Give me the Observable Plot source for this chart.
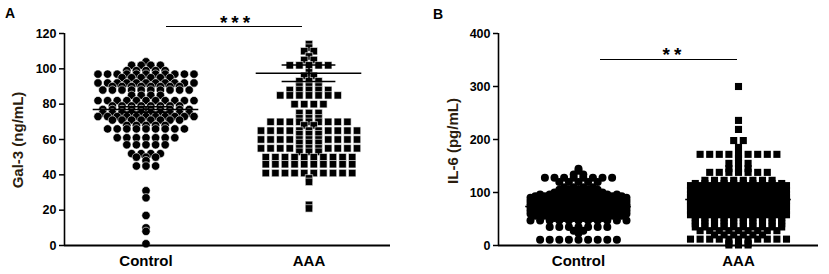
<!DOCTYPE html>
<html><head><meta charset="utf-8">
<script src="https://cdn.jsdelivr.net/npm/d3@7"></script>
<script src="https://cdn.jsdelivr.net/npm/@observablehq/plot@0.6"></script>
<style>
body{margin:0;background:#fff;}
#wrap{position:relative;width:829px;height:274px;overflow:hidden;font-family:"Liberation Sans",Arial,sans-serif;}
.panel{position:absolute;top:0;}
.txt{position:absolute;font-weight:bold;line-height:1;white-space:nowrap;color:#000;}
.ytitle{position:absolute;font-weight:bold;font-size:15px;line-height:1;white-space:nowrap;color:#2b1d0e;transform:translate(-50%,-50%) rotate(-90deg);}
.sig{position:absolute;height:0;border-top:1.8px solid #000;}
</style></head><body>
<div id="wrap"></div>
<script>
// ---------- data ----------
const groups = ["Control", "AAA"];

// Panel A: Gal-3 (ng/mL) -- values, and how many subjects share each value (one row of the scatter)
const galControlValues = [104,102,99,97,95,92,90,88,85,82,79,77,75,73,71,68,66,61,57,52,50,48,45,31,27,17,10,8,1];
const galControlCounts = [1,4,5,11,6,11,8,10,4,11,8,10,10,11,8,5,9,7,5,4,3,1,3,1,1,1,1,1,1];
const galAAAValues = [114,112,110,107,105,102,98,96,93,90,88,85,80,75,72,70,68,65,63,60,58,55,53,50,46,41,38,36,23,21];
const galAAACounts = [1,1,2,1,2,5,1,2,3,3,5,7,4,3,3,9,2,11,3,11,3,11,3,10,10,10,1,1,1,1];
const galMeans = [77, 97.5];
const galSE = [1.5, 4.7];
const galTicks = [0, 20, 40, 60, 80, 100, 120];

// Panel B: IL-6 (pg/mL)
const ilControlValues = [145,141,134,128,120,110,105,100,96,93,90,87,84,81,78,75,72,69,66,63,60,56,52,47,35,28,23,11];
const ilControlCounts = [1,1,2,8,5,4,5,6,9,10,11,10,11,10,11,10,11,10,11,10,11,10,6,11,7,2,1,9];
const ilAAAValues = [300,236,219,198,185,172,165,155,145,138,123,117,113,109,105,101,97,94,91,88,85,82,79,76,73,70,66,62,58,53,47,41,35,28,20,12,4,1];
const ilAAACounts = [1,1,1,2,1,9,1,3,3,7,8,10,11,10,11,10,11,10,11,10,11,10,11,10,11,10,11,10,11,10,10,10,10,9,6,11,3,3];
const ilMeans = [73.6, 86.8];
const ilSE = [2.5, 4];
const ilTicks = [0, 100, 200, 300, 400];

// ---------- build tables: each row of equal values is laid out side by side (slot = position in the row) ----------
function expand(group, values, counts) {
  const out = [];
  values.forEach((v, i) => {
    const n = counts[i];
    for (let k = 0; k < n; k++) out.push({group, value: v, slot: k - (n - 1) / 2});
  });
  return out;
}
const galData = expand("Control", galControlValues, galControlCounts).concat(expand("AAA", galAAAValues, galAAACounts));
const ilData = expand("Control", ilControlValues, ilControlCounts).concat(expand("AAA", ilAAAValues, ilAAACounts));

function panel(cfg) {
  const stats = groups.map((g, i) => ({group: g, mean: cfg.means[i], se: cfg.ses[i]}));
  const y0 = cfg.yDomain[0], y1 = cfg.yDomain[1];
  const facetW = (cfg.width - cfg.marginLeft - cfg.marginRight) / 2;
  const half = facetW / 2 / 9.6; // 9.6 px between neighbours in a row
  return Plot.plot({
    width: cfg.width, height: 274,
    marginTop: 33, marginBottom: 29, marginLeft: cfg.marginLeft, marginRight: cfg.marginRight,
    style: {fontFamily: '"Liberation Sans", Arial, sans-serif', background: "transparent", color: "#000", overflow: "visible"},
    fx: {domain: groups, padding: 0},
    x: {domain: [-half, half], axis: null},
    y: {domain: cfg.yDomain, axis: null},
    symbol: {domain: groups, range: ["circle", "square"]},
    marks: [
      Plot.dot(cfg.data, {fx: "group", x: "slot", y: "value", r: cfg.r, symbol: "group", fill: "#000", stroke: cfg.halo ? "#fff" : "none", strokeWidth: cfg.halo}),
      Plot.ruleY(stats, {fx: "group", y: "mean", x1: () => -5.5, x2: () => 5.5, stroke: "#000", strokeWidth: 1.6}),
      Plot.ruleX(stats, {fx: "group", x: () => 0, y1: d => d.mean - d.se, y2: d => d.mean + d.se, stroke: "#000", strokeWidth: 1.6}),
      Plot.ruleY(stats, {fx: "group", y: d => d.mean + d.se, x1: () => -2.8, x2: () => 2.8, stroke: "#000", strokeWidth: 1.6}),
      Plot.ruleY(stats, {fx: "group", y: d => d.mean - d.se, x1: () => -2.8, x2: () => 2.8, stroke: "#000", strokeWidth: 1.6}),
      Plot.ruleY([0], {stroke: "#000", strokeWidth: 1.8}),
      Plot.ruleX([{g: "Control"}], {fx: "g", x: () => -half, y1: () => y0, y2: () => y1, stroke: "#000", strokeWidth: 1.6}),
      Plot.axisY({ticks: cfg.yTicks, tickSize: 5, tickPadding: 3, fontSize: 12.5, fontWeight: "bold", label: null, strokeWidth: 1.5}),
      Plot.axisFx({anchor: "bottom", tickSize: 0, tickPadding: 10, fontSize: 15, fontWeight: "bold", label: null})
    ]
  });
}

const wrap = document.getElementById("wrap");
function place(node, left) {
  const d = document.createElement("div");
  d.className = "panel";
  d.style.left = left + "px";
  d.appendChild(node);
  wrap.appendChild(d);
}
place(panel({data: galData, means: galMeans, ses: galSE, yDomain: [0, 120], yTicks: galTicks, width: 414, marginLeft: 64, marginRight: 24, r: 4.2, halo: 0.6}), 0);
place(panel({data: ilData, means: ilMeans, ses: ilSE, yDomain: [0, 400], yTicks: ilTicks, width: 415, marginLeft: 84, marginRight: 11, r: 4, halo: 0}), 414);

function addText(text, cls, style) {
  const d = document.createElement("div");
  d.className = cls;
  d.textContent = text;
  Object.assign(d.style, style);
  wrap.appendChild(d);
}
addText("A", "txt", {left: "5px", top: "6px", fontSize: "14px"});
addText("B", "txt", {left: "433px", top: "7px", fontSize: "14px"});
addText("Gal-3 (ng/mL)", "ytitle", {left: "17px", top: "140px"});
addText("IL-6 (pg/mL)", "ytitle", {left: "452px", top: "141px"});
addText("***", "txt", {left: "205px", width: "60px", textAlign: "center", paddingLeft: "4px", boxSizing: "border-box", top: "12.5px", fontSize: "19px", letterSpacing: "4px"});
addText("**", "txt", {left: "642px", width: "60px", textAlign: "center", paddingLeft: "4px", boxSizing: "border-box", top: "44.5px", fontSize: "19px", letterSpacing: "4px"});
const s1 = document.createElement("div"); s1.className = "sig"; Object.assign(s1.style, {left: "166px", top: "26px", width: "136px"}); wrap.appendChild(s1);
const s2 = document.createElement("div"); s2.className = "sig"; Object.assign(s2.style, {left: "600px", top: "58.5px", width: "137px"}); wrap.appendChild(s2);
</script>
</body></html>
